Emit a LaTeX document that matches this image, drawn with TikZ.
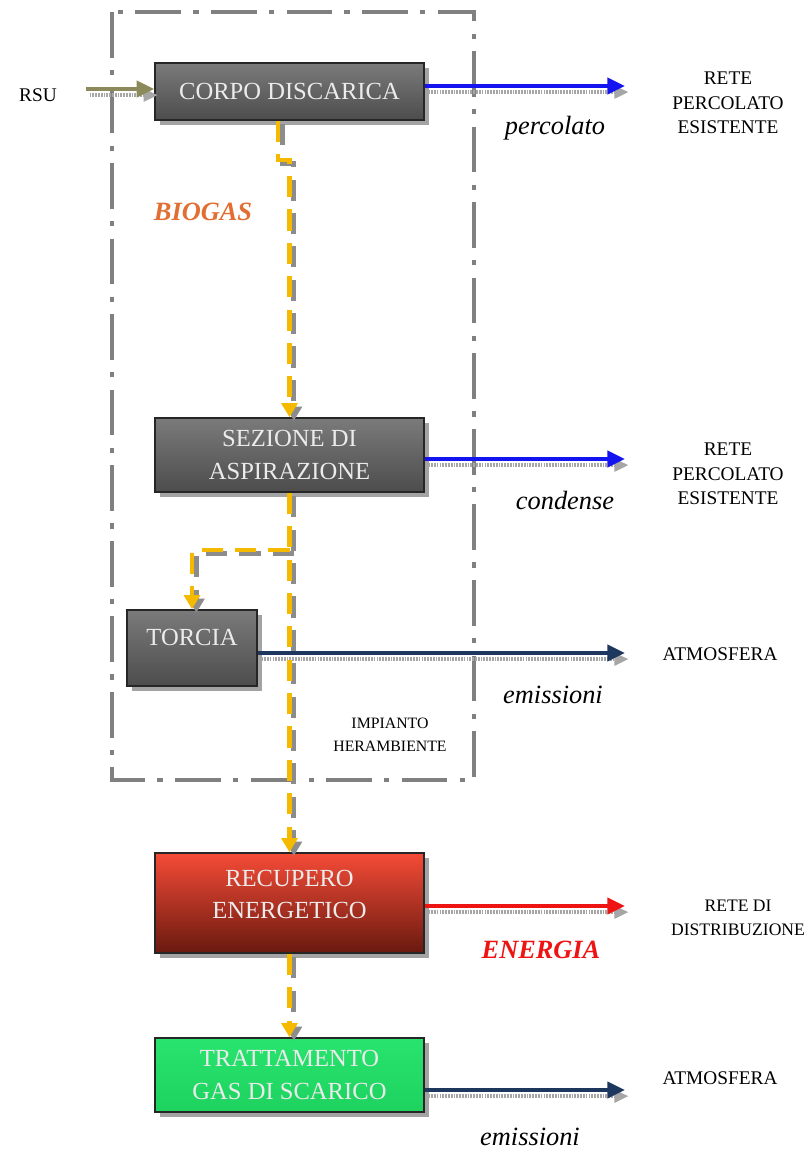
\documentclass[tikz,border=0pt]{standalone}
\usepackage{fontspec}
\setmainfont{Liberation Serif}
\usetikzlibrary{arrows.meta, shadows}

\definecolor{biogas}{RGB}{245,185,0}
\definecolor{arancio}{RGB}{225,110,50}
\definecolor{blu}{RGB}{20,20,240}
\definecolor{navy}{RGB}{30,55,95}
\definecolor{rossoacc}{RGB}{238,20,20}
\definecolor{oliva}{RGB}{140,138,90}

\begin{document}
\begin{tikzpicture}[x=0.02cm, y=-0.02cm,
  every node/.style={font=\fontsize{11}{14}\selectfont, align=center, inner sep=1pt},
  blocco/.style={draw=black!85, line width=0.9pt, text=white!92!black, inner sep=0pt,
    font=\fontsize{14}{18.5}\selectfont,
    drop shadow={shadow xshift=3pt, shadow yshift=-3pt, fill=black!40, opacity=0.9}},
  grigio/.style={top color=black!52, bottom color=black!70},
  rosso/.style={top color={rgb,255:red,245;green,75;blue,55}, bottom color={rgb,255:red,105;green,25;blue,15}},
  verde/.style={top color={rgb,255:red,40;green,228;blue,110}, bottom color={rgb,255:red,30;green,210;blue,95}},
  corsivo/.style={font=\fontsize{15}{18}\selectfont\itshape},
  flusso/.style={line width=2.3pt, -{Triangle[length=10pt,width=9pt]}},
  ombra/.style={draw=black!35, line width=2pt, dash pattern=on 1pt off 0.6pt,
    -{Triangle[length=8pt,width=7pt]}, transform canvas={xshift=2pt,yshift=-3.5pt}},
  gas/.style={draw=biogas, line width=2.8pt, dash pattern=on 12pt off 7pt,
    -{Triangle[length=8pt,width=9pt]}},
  gasombra/.style={gas, draw=black!45, transform canvas={xshift=2.5pt,yshift=-2pt}},
  cornice/.style={draw=black!50, line width=2.8pt, dash pattern=on 26pt off 7pt on 3pt off 7pt}]

\useasboundingbox (0,0) rectangle (809,1149);

% impianto
\draw[cornice] (112,12) rectangle (474,780);
\node[font=\fontsize{9}{13}\selectfont] (impianto) at (390,735) {IMPIANTO\\HERAMBIENTE};

% blocchi
\node[blocco, grigio, minimum width=5.38cm, minimum height=1.14cm] (corpo) at (289.5,91.5) {CORPO DISCARICA};
\node[blocco, grigio, minimum width=5.38cm, minimum height=1.48cm] (sezione) at (289.5,455) {SEZIONE DI\\ASPIRAZIONE};
\node[blocco, grigio, minimum width=2.6cm, minimum height=1.52cm, text depth=12pt] (torcia) at (192,648) {TORCIA};
\node[blocco, rosso, minimum width=5.38cm, minimum height=2cm, text depth=10pt] (recupero) at (289.5,903) {RECUPERO\\ENERGETICO};
\node[blocco, verde, minimum width=5.38cm, minimum height=1.48cm] (trattamento) at (289.5,1075) {TRATTAMENTO\\GAS DI SCARICO};

% destinazioni
\node (rsu) at (38,95) {RSU};
\node (rete1) at (728,103) {RETE\\PERCOLATO\\ESISTENTE};
\node (rete2) at (728,474) {RETE\\PERCOLATO\\ESISTENTE};
\node (atm1) at (720,654) {ATMOSFERA};
\node[font=\fontsize{10}{13.5}\selectfont] (rete3) at (738,918) {RETE DI\\DISTRIBUZIONE};
\node (atm2) at (720,1078) {ATMOSFERA};

\node[corsivo] (perc) at (555,128) {percolato};
\node[corsivo] (cond) at (565,500) {condense};
\node[corsivo] (emis1) at (553,695) {emissioni};
\node[font=\fontsize{15}{18}\selectfont\bfseries\itshape, text=rossoacc] (energia) at (541,950) {ENERGIA};
\node[corsivo] (emis2) at (530,1137) {emissioni};
\node[font=\fontsize{15}{18}\selectfont\bfseries\itshape, text=arancio] (biogas) at (203,212) {BIOGAS};

% estremi delle frecce
\coordinate (in) at (86,89);
\coordinate (p1) at (625,86);
\coordinate (p2) at (625,459);
\coordinate (p3) at (625,653);
\coordinate (p4) at (625,906);
\coordinate (p5) at (625,1090);
\coordinate (g1) at (278,160);
\coordinate (split) at (289.5,550);

% flussi
\draw[ombra] (in) -- (in -| corpo.west);
\draw[flusso, oliva] (in) -- (in -| corpo.west);
\draw[ombra] (corpo.east |- p1) -- (p1);
\draw[flusso, blu] (corpo.east |- p1) -- (p1);
\draw[ombra] (sezione.east |- p2) -- (p2);
\draw[flusso, blu] (sezione.east |- p2) -- (p2);
\draw[ombra] (torcia.east |- p3) -- (p3);
\draw[flusso, navy] (torcia.east |- p3) -- (p3);
\draw[ombra] (recupero.east |- p4) -- (p4);
\draw[flusso, rossoacc] (recupero.east |- p4) -- (p4);
\draw[ombra] (trattamento.east |- p5) -- (p5);
\draw[flusso, navy] (trattamento.east |- p5) -- (p5);

% biogas
\foreach \st in {gasombra, gas} {
  \draw[\st] (corpo.south -| g1) -- (g1) -| (sezione.north);
  \draw[\st] (sezione.south) -- (recupero.north);
  \draw[\st] (split) -| (torcia.north);
  \draw[\st] (recupero.south) -- (trattamento.north);
}
\end{tikzpicture}
\end{document}
